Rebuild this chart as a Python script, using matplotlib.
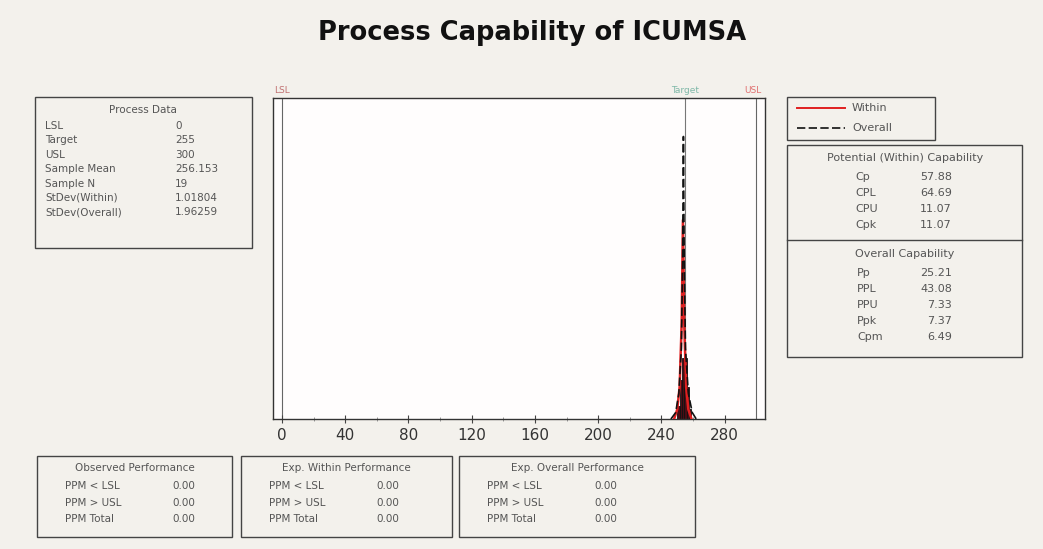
import matplotlib
matplotlib.use("Agg")
import matplotlib.pyplot as plt
from matplotlib.patches import Rectangle

# process data
lsl = 0
target = 255
usl = 300
proc_labels = ["LSL", "Target", "USL", "Sample Mean", "Sample N", "StDev(Within)", "StDev(Overall)"]
proc_values = ["0", "255", "300", "256.153", "19", "1.01804", "1.96259"]

within_labels = ["Cp", "CPL", "CPU", "Cpk"]
within_values = ["57.88", "64.69", "11.07", "11.07"]
overall_labels = ["Pp", "PPL", "PPU", "Ppk", "Cpm"]
overall_values = ["25.21", "43.08", "7.33", "7.37", "6.49"]

perf_titles = ["Observed Performance", "Exp. Within Performance", "Exp. Overall Performance"]
perf_labels = ["PPM < LSL", "PPM > USL", "PPM Total"]
perf_values = [["0.00", "0.00", "0.00"], ["0.00", "0.00", "0.00"], ["0.00", "0.00", "0.00"]]

# histogram + fitted curves, heights
hist_edges = [250, 251.5, 253, 254.5, 256, 257.5, 259]
hist_counts = [0.4, 1.2, 1.9, 1.9, 1.0, 0.3]
within_x = [248, 250, 251.5, 252.8, 253.6, 254.4, 255.6, 257, 259]
within_y = [0, 0.3, 1.0, 3.0, 6.2, 3.0, 1.0, 0.3, 0]
overall_x = [246, 249, 251, 252.6, 253.4, 253.9, 254.4, 255.2, 257, 259.5, 262]
overall_y = [0, 0.2, 0.8, 2.2, 5.0, 8.8, 5.0, 2.2, 0.8, 0.2, 0]
xticks = [0, 40, 80, 120, 160, 200, 240, 280]

W, H = 1043, 549
BG = "#f3f1ec"
TXT = "#555555"
EDGE = "#444444"


def fx(x):
    return x / W


def fy(y):
    return 1 - y / H


def box(fig, x0, y0, x1, y1):
    fig.patches.append(Rectangle((fx(x0), fy(y1)), fx(x1 - x0), (y1 - y0) / H,
                                 transform=fig.transFigure, fill=False,
                                 edgecolor=EDGE, linewidth=1.0))


def txt(fig, x, y, s, ha="left", size=7.5, color=TXT, **kw):
    fig.text(fx(x), fy(y), s, ha=ha, va="center", fontsize=size, color=color, **kw)


fig = plt.figure(figsize=(W / 100, H / 100), dpi=100, facecolor=BG)

fig.text(fx(532), fy(33), "Process Capability of ICUMSA", ha="center", va="center",
         fontsize=18.5, fontweight="bold", color="#111111")

# main histogram panel
ax = fig.add_axes([fx(273), fy(419), fx(765 - 273), (419 - 98) / H])
ax.set_facecolor("#fffdfd")
ax.bar(hist_edges[:-1], hist_counts, width=1.5, align="edge",
       color="#4a0c14", edgecolor="#111111", linewidth=0.6, zorder=2)
ax.plot(within_x, within_y, color="#e02020", linewidth=1.8, zorder=3)
ax.plot(overall_x, overall_y, color="#111111", linewidth=1.2, linestyle=(0, (5, 2)), zorder=4)
for v in (lsl, usl):
    ax.axvline(v, color="#666666", linewidth=0.8, zorder=1)
ax.axvline(target, color="#777777", linewidth=0.8, zorder=1)
ax.set_xlim(-5.7, 305.5)
ax.set_ylim(0, 10)
ax.set_yticks([])
ax.set_xticks(xticks)
ax.set_xticks(range(20, 300, 40), minor=True)
ax.tick_params(axis="x", direction="inout", length=6, labelsize=11, labelcolor="#333333", color="#444444")
ax.tick_params(axis="x", which="minor", direction="inout", length=3, color="#888888")
for s in ax.spines.values():
    s.set_color("#333333")
    s.set_linewidth(1.0)
ax.text(lsl, 1.01, "LSL", transform=ax.get_xaxis_transform(), ha="center", va="bottom",
        fontsize=6.5, color="#c07070")
ax.text(target, 1.01, "Target", transform=ax.get_xaxis_transform(), ha="center", va="bottom",
        fontsize=6.5, color="#7fb8a8")
ax.text(usl - 2, 1.01, "USL", transform=ax.get_xaxis_transform(), ha="center", va="bottom",
        fontsize=6.5, color="#e07070")

# process data box
box(fig, 35, 97, 252, 248)
txt(fig, 143, 110, "Process Data", ha="center")
for i, (lab, val) in enumerate(zip(proc_labels, proc_values)):
    y = 126 + i * 14.4
    txt(fig, 45, y, lab)
    txt(fig, 175, y, val)

# legend box
box(fig, 787, 97, 935, 140)
fig.lines.append(plt.Line2D([fx(797), fx(845)], [fy(108), fy(108)], transform=fig.transFigure,
                            color="#e02020", linewidth=1.4))
fig.lines.append(plt.Line2D([fx(797), fx(845)], [fy(128), fy(128)], transform=fig.transFigure,
                            color="#111111", linewidth=1.2, linestyle=(0, (5, 2))))
txt(fig, 852, 108, "Within", size=8)
txt(fig, 852, 128, "Overall", size=8)

# capability box
box(fig, 787, 145, 1022, 357)
fig.lines.append(plt.Line2D([fx(787), fx(1022)], [fy(240), fy(240)], transform=fig.transFigure,
                            color=EDGE, linewidth=1.0))
txt(fig, 905, 158, "Potential (Within) Capability", ha="center", size=8)
for i, (lab, val) in enumerate(zip(within_labels, within_values)):
    y = 177 + i * 16
    txt(fig, 855, y, lab, size=8)
    txt(fig, 952, y, val, ha="right", size=8)
txt(fig, 905, 254, "Overall Capability", ha="center", size=8)
for i, (lab, val) in enumerate(zip(overall_labels, overall_values)):
    y = 273 + i * 16
    txt(fig, 857, y, lab, size=8)
    txt(fig, 952, y, val, ha="right", size=8)

# performance boxes
perf_boxes = [(37, 232), (241, 452), (459, 695)]
for (x0, x1), title, vals in zip(perf_boxes, perf_titles, perf_values):
    box(fig, x0, 456, x1, 537)
    txt(fig, (x0 + x1) / 2, 468, title, ha="center")
    for j, (lab, val) in enumerate(zip(perf_labels, vals)):
        y = 486 + j * 16.5
        txt(fig, x0 + 28, y, lab)
        txt(fig, x0 + 158, y, val, ha="right")

fig.savefig("out.png", dpi=100, facecolor=BG)
